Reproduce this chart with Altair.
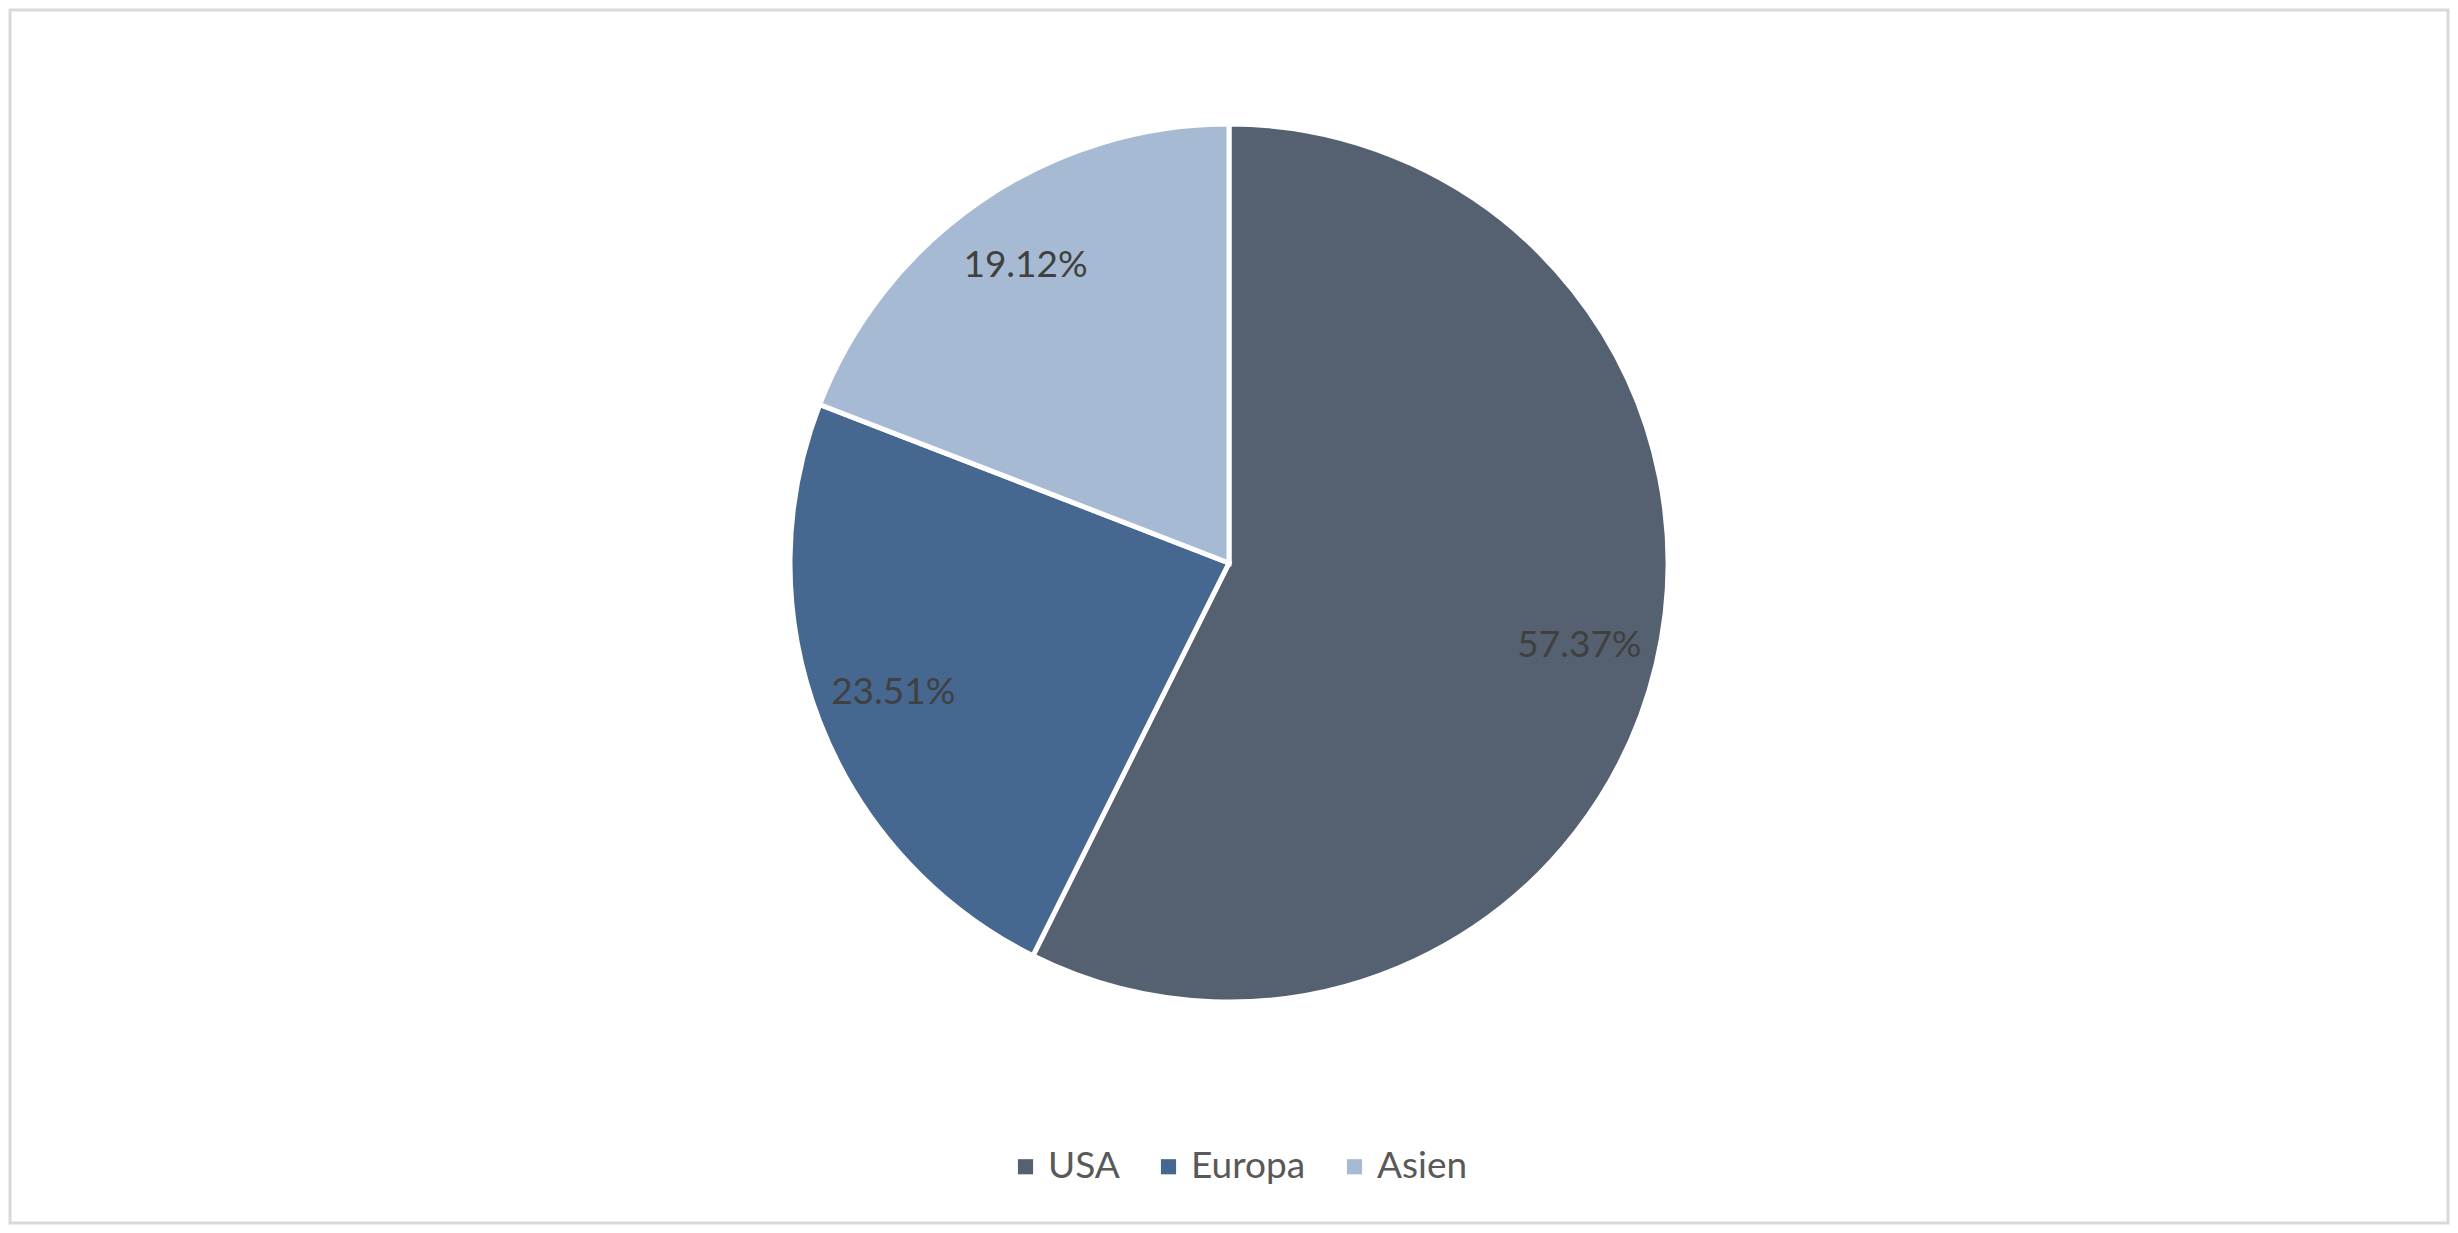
import pandas as pd
import altair as alt

# values
regions = ["USA", "Europa", "Asien"]
shares = [0.5737, 0.2351, 0.1912]
colors = ["#556071", "#46678f", "#a6bad3"]

data = pd.DataFrame({"region": regions, "share": shares, "idx": range(len(regions))})

cx, cy = 1219, 553

base = alt.Chart(data).encode(
    theta=alt.Theta("share:Q", stack=True),
    order=alt.Order("idx:Q", sort="ascending"),
    x=alt.value(cx),
    y=alt.value(cy),
)

pie = base.mark_arc(outerRadius=439, stroke="white", strokeWidth=5).encode(
    color=alt.Color(
        "region:N",
        scale=alt.Scale(domain=regions, range=colors),
        sort=regions,
        legend=alt.Legend(
            title=None,
            orient="none",
            direction="horizontal",
            legendX=997,
            legendY=1138,
            symbolType="square",
            symbolSize=230,
            symbolStrokeWidth=0,
            labelFontSize=37,
            labelFont="Lato",
            labelColor="#595959",
            labelOffset=4,
            columnPadding=30,
            padding=0,
        ),
    )
)

labels = base.mark_text(radius=360, fontSize=37, font="Lato", color="#404040").encode(
    text=alt.Text("share:Q", format=".2%")
)

chart = (pie + labels).properties(
    width=2438,
    height=1213,
    padding=2,
    autosize=alt.AutoSizeParams(type="none"),
    background="white",
).configure_view(stroke="#d9d9d9", strokeWidth=3)

chart.save("out.html", embed_options={"renderer": "svg", "actions": False})
